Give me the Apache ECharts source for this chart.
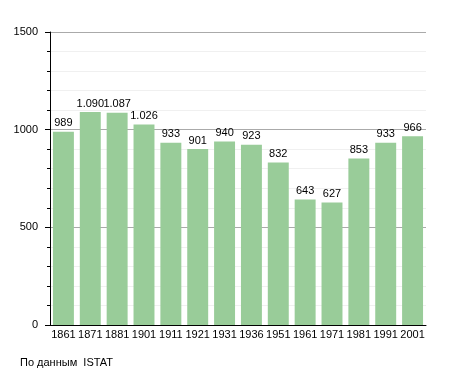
<!DOCTYPE html>
<html><head><meta charset="utf-8">
<script src="https://cdn.jsdelivr.net/npm/echarts@6/dist/echarts.min.js"></script>
<style>html,body{margin:0;padding:0;background:#fff}#c{width:455px;height:373px}</style>
</head><body><div id="c"></div>
<script>
const years = ['1861','1871','1881','1901','1911','1921','1931','1936','1951','1961','1971','1981','1991','2001'];
const population = [989,1090,1087,1026,933,901,940,923,832,643,627,853,933,966];
const yTicks = [0,500,1000,1500];
const sourceText = 'По данным  ISTAT';

const fmt = v => { const s = String(v); return s.length > 3 ? s.slice(0, s.length-3) + '.' + s.slice(-3) : s; };
const chart = echarts.init(document.getElementById('c'), null, {renderer:'canvas'});
chart.setOption({
  animation:false,
  textStyle:{fontFamily:'Liberation Sans, Arial, sans-serif'},
  grid:{left:50,right:29,top:32,bottom:48},
  graphic:[{type:'text',left:20,top:357,style:{text:sourceText,fontSize:11,fill:'#000',fontFamily:'Liberation Sans, Arial, sans-serif'}}],
  xAxis:{type:'category',data:years,
    axisLine:{lineStyle:{color:'#000',width:1}},
    axisTick:{show:false},
    axisLabel:{color:'#000',fontSize:11,margin:4,interval:0}},
  yAxis:{type:'value',min:yTicks[0],max:yTicks[yTicks.length-1],interval:500,
    axisLine:{show:true,lineStyle:{color:'#000'}},
    axisTick:{show:true,length:5,lineStyle:{color:'#000'}},
    minorTick:{show:true,splitNumber:5,length:3,lineStyle:{color:'#000'}},
    splitLine:{show:true,lineStyle:{color:'#aaa'}},
    minorSplitLine:{show:true,lineStyle:{color:'#f0f0f0'}},
    axisLabel:{color:'#000',fontSize:11,margin:12,formatter:v=>String(v)}},
  series:[{type:'bar',data:population,barCategoryGap:'22%',
    itemStyle:{color:'#99cc99'},
    label:{show:true,position:'top',color:'#000',fontSize:11,distance:3,formatter:p=>fmt(p.value)}}]
});
</script></body></html>
